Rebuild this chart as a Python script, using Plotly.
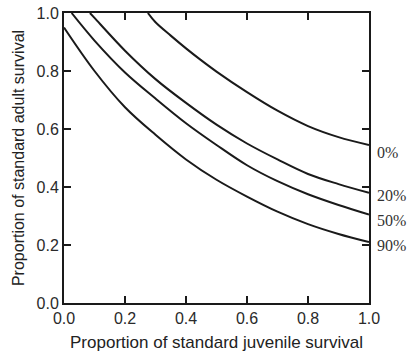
import plotly.graph_objects as go

# Data
x_0 = [0.275, 0.3, 0.35, 0.4, 0.446, 0.5, 0.6, 0.7, 0.8, 0.9, 1.0]
y_0 = [1.0, 0.968, 0.922, 0.878, 0.84, 0.798, 0.727, 0.663, 0.61, 0.572, 0.545]

x_20 = [0.085, 0.1, 0.2, 0.3, 0.4, 0.5, 0.6, 0.7, 0.8, 0.9, 1.0]
y_20 = [1.0, 0.983, 0.87, 0.772, 0.69, 0.615, 0.55, 0.495, 0.445, 0.41, 0.38]

x_50 = [0.025, 0.1, 0.2, 0.3, 0.4, 0.5, 0.6, 0.7, 0.8, 0.9, 1.0]
y_50 = [1.0, 0.905, 0.795, 0.705, 0.62, 0.545, 0.475, 0.42, 0.375, 0.338, 0.305]

x_90 = [0.0, 0.1, 0.2, 0.3, 0.4, 0.5, 0.6, 0.7, 0.8, 0.9, 1.0]
y_90 = [0.95, 0.80, 0.675, 0.58, 0.495, 0.425, 0.367, 0.315, 0.272, 0.238, 0.21]

series_labels = ["0%", "20%", "50%", "90%"]
label_y = [0.52, 0.369, 0.286, 0.197]

tick_vals = [0.0, 0.2, 0.4, 0.6, 0.8, 1.0]
tick_text = ["0.0", "0.2", "0.4", "0.6", "0.8", "1.0"]

fig = go.Figure()
for xs, ys in [(x_0, y_0), (x_20, y_20), (x_50, y_50), (x_90, y_90)]:
    fig.add_trace(go.Scatter(x=xs, y=ys, mode="lines",
                             line=dict(color="#1a1a1a", width=2, shape="spline", smoothing=1.0),
                             showlegend=False, hoverinfo="skip"))

for lab, ly in zip(series_labels, label_y):
    fig.add_annotation(x=1.0, y=ly, xref="x", yref="y", text=lab, showarrow=False,
                       xanchor="left", yanchor="middle", xshift=6,
                       font=dict(family="Liberation Serif", size=16, color="#333333"))

axis_common = dict(
    range=[0, 1], tickvals=tick_vals, ticktext=tick_text,
    showline=True, linecolor="#1a1a1a", linewidth=2, mirror="ticks",
    ticks="inside", ticklen=7, tickwidth=2, tickcolor="#1a1a1a",
    showgrid=False, zeroline=False, automargin=False,
    tickfont=dict(family="Liberation Sans", size=16, color="#2a2a2a"),
)

fig.update_xaxes(**axis_common,
                 title=dict(text="Proportion of standard juvenile survival",
                            font=dict(family="Liberation Sans", size=17, color="#222222"),
                            standoff=10))
fig.update_yaxes(**axis_common,
                 title=dict(text="Proportion of standard adult survival",
                            font=dict(family="Liberation Sans", size=16, color="#222222"),
                            standoff=8))

fig.update_layout(
    width=408, height=356,
    margin=dict(l=64, r=39, t=13, b=53, autoexpand=False),
    plot_bgcolor="white", paper_bgcolor="white",
)

fig.write_html("out.html")
